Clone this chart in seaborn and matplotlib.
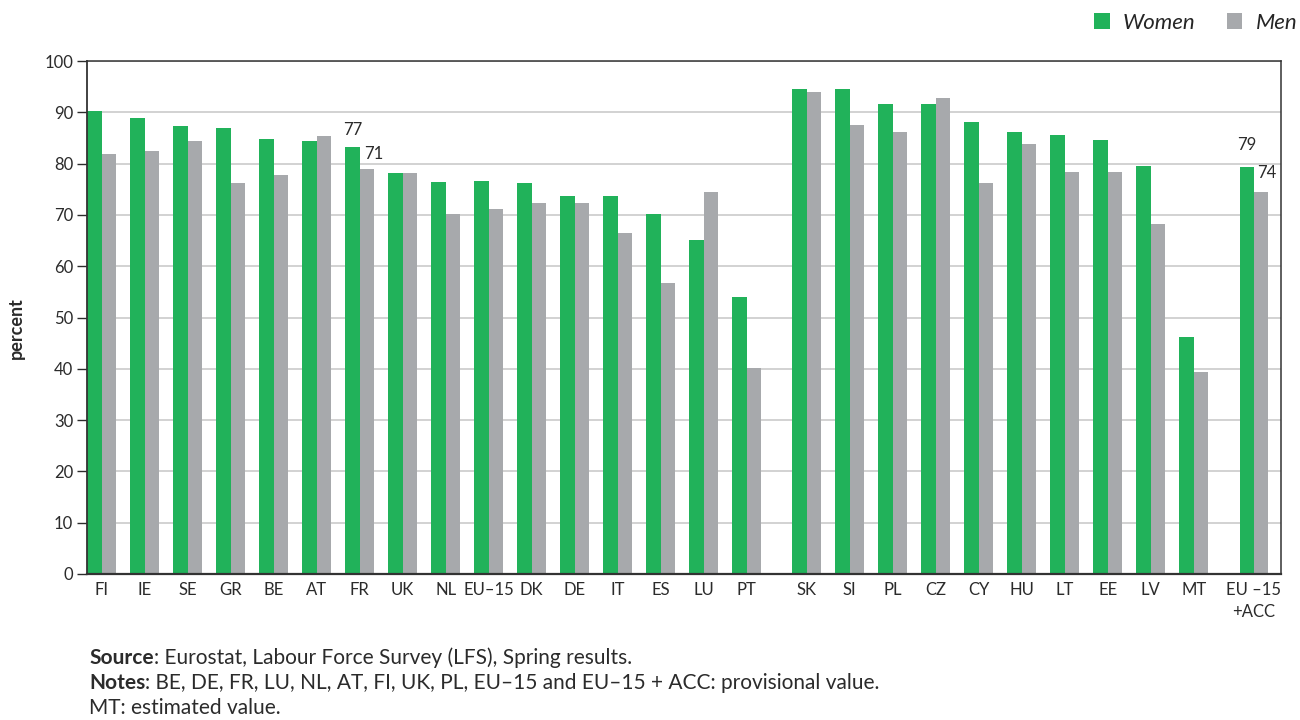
import numpy as np
import pandas as pd
import matplotlib
matplotlib.use("Agg")
import matplotlib.pyplot as plt
from matplotlib.patches import Patch
import seaborn as sns

# Employment rates by sex, percent
countries = ["FI", "IE", "SE", "GR", "BE", "AT", "FR", "UK", "NL", "EU–15",
             "DK", "DE", "IT", "ES", "LU", "PT",
             "SK", "SI", "PL", "CZ", "CY", "HU", "LT", "EE", "LV", "MT",
             "EU –15\n+ACC"]
women = [90.3, 88.9, 87.4, 86.9, 84.7, 84.5, 83.2, 78.2, 76.4, 76.6,
         76.2, 73.6, 73.6, 70.2, 65.1, 53.9,
         94.6, 94.6, 91.7, 91.7, 88.1, 86.2, 85.6, 84.6, 79.6, 46.2,
         79.4]
men = [81.9, 82.4, 84.5, 76.3, 77.7, 85.3, 79.0, 78.2, 70.2, 71.2,
       72.3, 72.3, 66.5, 56.8, 74.4, 40.2,
       93.9, 87.5, 86.2, 92.8, 76.2, 83.8, 78.3, 78.3, 68.3, 39.4,
       74.4]
series = ["Women", "Men"]
yticks = list(range(0, 101, 10))

FONT = "Lato"
GREEN = "#21B25A"
GREY = "#A7A9AC"
TEXT = "#2b2b2b"

sns.set_theme(style="white")
plt.rcParams["font.family"] = [FONT, "DejaVu Sans"]

# x positions: wider gaps before the accession countries and the EU-15+ACC pair
breaks = [countries.index("SK"), countries.index("EU –15\n+ACC")]
pos = np.array([i + 0.4 * sum(i >= b for b in breaks) for i in range(len(countries))])

df = pd.DataFrame({
    "pos": np.concatenate([pos, pos]),
    "sex": [series[0]] * len(countries) + [series[1]] * len(countries),
    "value": women + men,
})

fig = plt.figure(figsize=(13, 7.2), dpi=100)
ax = fig.add_axes([87 / 1300, 146 / 720, (1281 - 87) / 1300, (574 - 61) / 720])

sns.barplot(data=df, x="pos", y="value", hue="sex", hue_order=series,
            palette=[GREEN, GREY], native_scale=True, width=0.667,
            errorbar=None, legend=False, saturation=1, linewidth=0, ax=ax)

ax.set_xlim(pos[0] - 0.34, pos[-1] + 0.63)
ax.set_ylim(0, 100)
ax.set_yticks(yticks)
ax.set_yticklabels([str(t) for t in yticks], fontsize=12, color=TEXT)
ax.set_xticks(pos)
ax.set_xticklabels(countries, fontsize=12, color=TEXT, linespacing=1.45)
ax.tick_params(axis="y", length=7, width=1, color=TEXT, pad=3, left=True)
ax.tick_params(axis="x", length=0, pad=6)
ax.set_xlabel("")
ax.set_ylabel("percent", fontsize=13, fontweight="bold", color=TEXT)
ax.yaxis.set_label_coords(-62 / 1194, 0.48)

ax.set_axisbelow(True)
ax.yaxis.grid(True, color="#CFCFCF", linewidth=1.3)
for side in ["left", "bottom", "top", "right"]:
    ax.spines[side].set_visible(True)
    ax.spines[side].set_color("#333333")
ax.spines["left"].set_linewidth(1.3)
ax.spines["bottom"].set_linewidth(1.6)
ax.spines["top"].set_linewidth(1.1)
ax.spines["right"].set_linewidth(1.1)

# Value labels: the EU-15 averages sit over the FR pair, the EU-15+ACC
# averages over their own pair
half = 0.667 / 4
callouts = [
    ("FR", "EU–15", (0, 6.5), (5, 5)),
    ("EU –15\n+ACC", "EU –15\n+ACC", (0, 10), (4, 8.5)),
]
for at, src, off_w, off_m in callouts:
    i, j = countries.index(at), countries.index(src)
    ax.annotate(f"{women[j]:.0f}", xy=(pos[i] - half, women[i]),
                xytext=off_w, textcoords="offset points",
                ha="center", va="bottom", fontsize=12, color=TEXT)
    ax.annotate(f"{men[j]:.0f}", xy=(pos[i] + half, men[i]),
                xytext=off_m, textcoords="offset points",
                ha="center", va="bottom", fontsize=12, color=TEXT)

# Legend
handles = [Patch(facecolor=GREEN, edgecolor="none"),
           Patch(facecolor=GREY, edgecolor="none")]
fig.legend(handles, series, loc="center left",
           bbox_to_anchor=(1094 / 1300, 1 - 23 / 720), ncol=2, frameon=False,
           handlelength=0.7, handleheight=0.7, handletextpad=0.6,
           columnspacing=1.4, borderaxespad=0, borderpad=0,
           prop={"family": FONT, "style": "italic", "size": 16})

# Source and notes
lines = [("Source", ": Eurostat, Labour Force Survey (LFS), Spring results."),
         ("Notes", ": BE, DE, FR, LU, NL, AT, FI, UK, PL, EU–15 and EU–15 + ACC: provisional value."),
         ("", "MT: estimated value.")]
y0 = 1 - 658 / 720
for k, (head, rest) in enumerate(lines):
    y = y0 - k * 25 / 720
    if head:
        t = fig.text(89 / 1300, y, head, fontsize=15, fontweight="bold",
                     color=TEXT, va="center", ha="left")
        ax.annotate(rest, xy=(1, 0), xycoords=t, va="bottom", ha="left",
                    fontsize=15, color=TEXT, annotation_clip=False)
    else:
        fig.text(89 / 1300, y, rest, fontsize=15, color=TEXT,
                 va="center", ha="left")

fig.savefig("out.png", dpi=100, facecolor="white")
